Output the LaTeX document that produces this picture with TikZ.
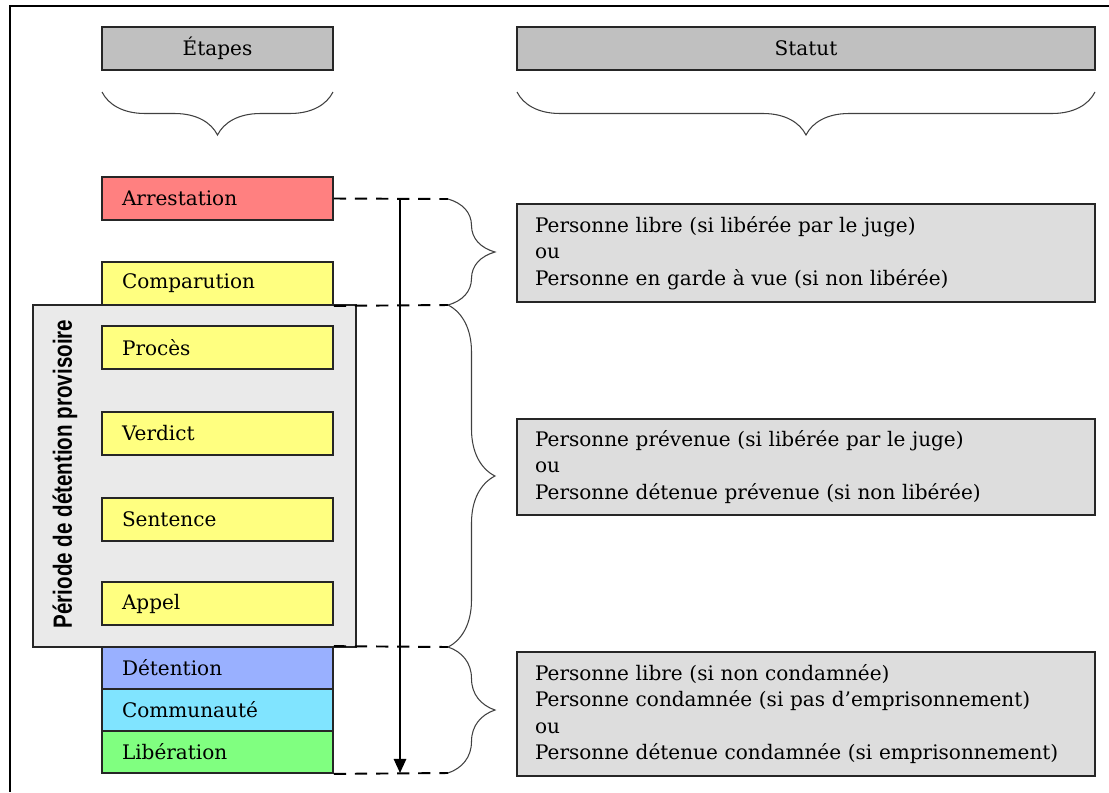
\documentclass[tikz,border=0pt]{standalone}
\usepackage{fontspec}
\setmainfont{DejaVu Serif}
\newfontfamily\labelfont{Liberation Sans}
\usetikzlibrary{calc,arrows.meta,decorations.pathreplacing}

\definecolor{hdrgray}{RGB}{192,192,192}
\definecolor{pergray}{RGB}{234,234,234}
\definecolor{statgray}{RGB}{221,221,221}
\definecolor{arrred}{RGB}{255,128,128}
\definecolor{stgyellow}{RGB}{255,255,128}
\definecolor{detblue}{RGB}{153,176,255}
\definecolor{comcyan}{RGB}{128,228,255}
\definecolor{libgreen}{RGB}{128,255,128}

\begin{document}
\begin{tikzpicture}[x=0.02cm, y=-0.02cm, font=\fontsize{11.4}{15}\selectfont]
    % column headers
    \tikzstyle{hdr}=[draw=black!85, line width=1pt, fill=hdrgray, minimum height=0.86cm]
    % stage boxes
    \tikzstyle{stage}=[draw=black!85, line width=1pt, minimum width=4.62cm, minimum height=0.86cm, inner xsep=0.4cm, text width=3.82cm, align=left]
    % status boxes
    \tikzstyle{stat}=[draw=black!85, line width=1pt, fill=statgray, minimum width=11.56cm, inner xsep=0.36cm, text width=10.84cm, align=left]
    \tikzstyle{brc}=[decorate, line width=0.6pt, draw=black!75]
    \tikzstyle{dashline}=[line width=1.1pt, dash pattern=on 7pt off 5pt]
    \useasboundingbox (0,0) rectangle (1109,792);
    \draw[line width=1.1pt] (1109,6) -- (10,6) -- (10,792);
    \node[hdr, minimum width=4.62cm] (ETP) at (217.5,48.5) {Étapes};
    \node[hdr, minimum width=11.56cm] (STA) at (806,48.5) {Statut};
    \coordinate (E1) at (333,92);
    \coordinate (E2) at (102,92);
    \coordinate (E3) at (1095,92);
    \coordinate (E4) at (517,92);
    \draw[brc, decoration={brace, amplitude=0.86cm}] (E1) -- (E2);
    \draw[brc, decoration={brace, amplitude=0.86cm}] (E3) -- (E4);
    % detention period
    \node[draw=black!85, line width=1pt, fill=pergray, minimum width=6.46cm, minimum height=6.84cm] (PER) at (194.5,476) {};
    \node[rotate=90, font=\labelfont\bfseries\fontsize{15}{15}\selectfont] (PERL) at (65,474) {\scalebox{0.78}[1]{Période de détention provisoire}};
    \node[stage, fill=arrred] (ARR) at (217.5,198.5) {Arrestation};
    \node[stage, fill=stgyellow] (COMP) at (217.5,283.5) {Comparution};
    \node[stage, fill=stgyellow] (PROC) at (217.5,347.5) {Procès};
    \node[stage, fill=stgyellow] (VERD) at (217.5,433.5) {Verdict};
    \node[stage, fill=stgyellow] (SENT) at (217.5,519.5) {Sentence};
    \node[stage, fill=stgyellow] (APP) at (217.5,603.5) {Appel};
    \node[stage, fill=detblue, minimum height=0.84cm] (DET) at (217.5,668) {Détention};
    \node[stage, fill=comcyan, minimum height=0.84cm] (COM) at ($(DET)+(0,42)$) {Communauté};
    \node[stage, fill=libgreen, minimum height=0.84cm] (LIB) at ($(COM)+(0,42)$) {Libération};
    % time line
    \coordinate (D1) at (448,199);
    \coordinate (D2) at (448,305);
    \coordinate (D3) at (448,647);
    \coordinate (D4) at (448,773);
    \coordinate (A0) at (400,199);
    \coordinate (A1) at (400,773);
    \draw[dashline] (ARR.east) -- (D1);
    \draw[dashline] (COMP.south east) -- (D2);
    \draw[dashline] (DET.north east) -- (D3);
    \draw[dashline] (LIB.south east) -- (D4);
    \draw[line width=1.1pt, -{Triangle[length=8pt, width=7pt]}] (A0) -- (A1);
    \draw[brc, decoration={brace, amplitude=0.94cm}] (D1) -- (D2);
    \draw[brc, decoration={brace, amplitude=0.94cm}] (D2) -- (D3);
    \draw[brc, decoration={brace, amplitude=0.94cm}] (D3) -- (D4);
    % status
    \node[stat, minimum height=1.96cm] (S1) at (806,253) {Personne libre (si libérée par le juge)\\ou\\Personne en garde à vue (si non libérée)};
    \node[stat, minimum height=1.92cm] (S2) at (806,467) {Personne prévenue (si libérée par le juge)\\ou\\Personne détenue prévenue (si non libérée)};
    \node[stat, minimum height=2.48cm] (S3) at (806,714) {Personne libre (si non condamnée)\\Personne condamnée (si pas d’emprisonnement)\\ou\\Personne détenue condamnée (si emprisonnement)};
\end{tikzpicture}
\end{document}
